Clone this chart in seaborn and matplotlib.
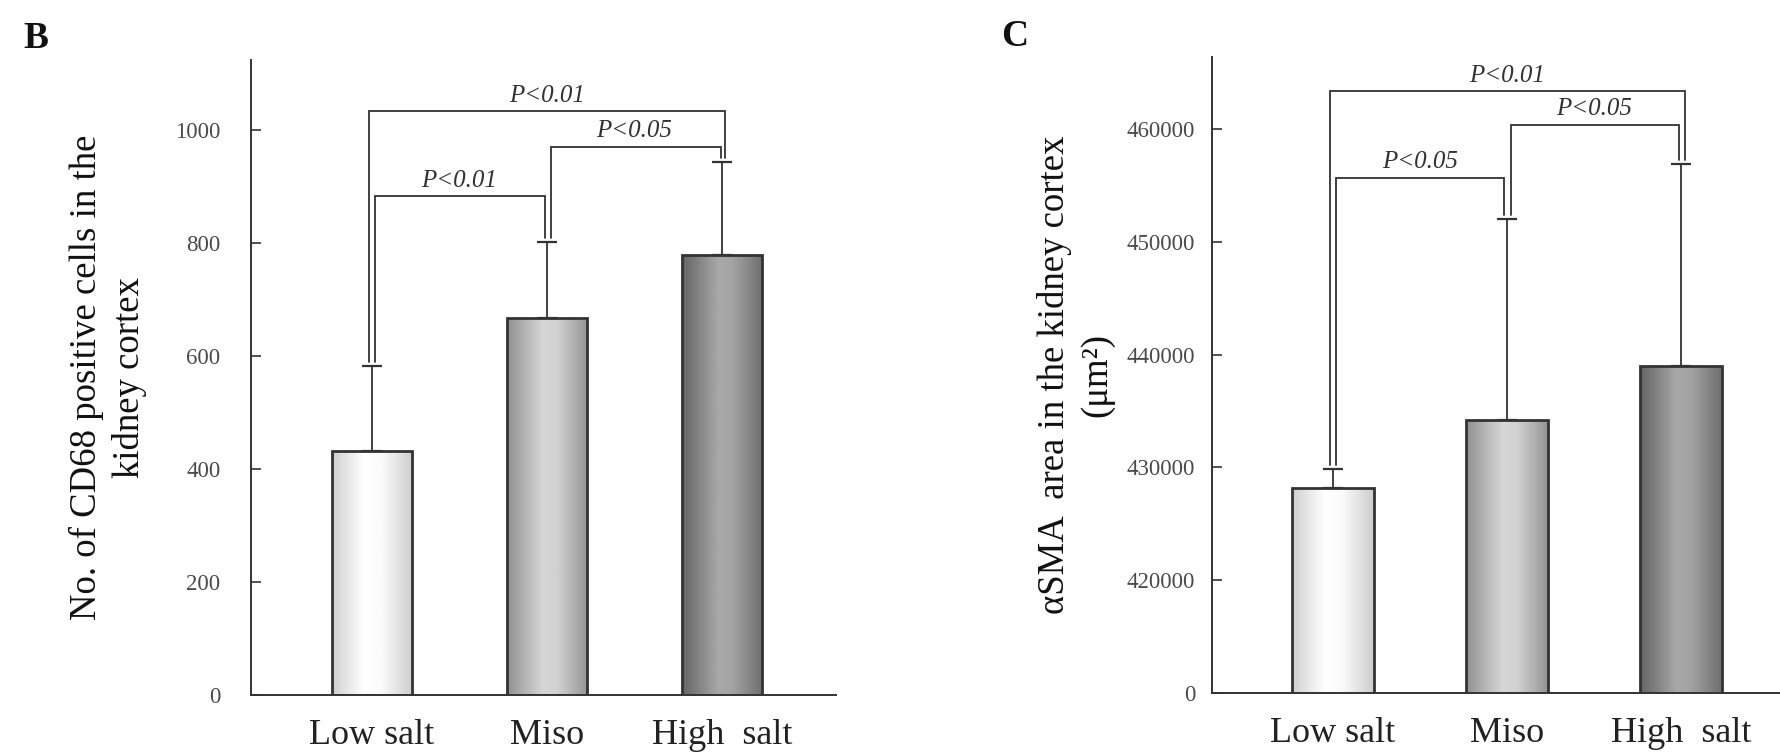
import numpy as np
import pandas as pd
import matplotlib
matplotlib.use("Agg")
import matplotlib.pyplot as plt
import seaborn as sns

# ---------------- data ----------------
categories = ["Low salt", "Miso", "High  salt"]

cd68_mean = [432, 666, 778]
cd68_err = [149, 135, 165]
cd68_ticks = [0, 200, 400, 600, 800, 1000]
cd68_ticklabels = ["0", "200", "400", "600", "800", "1000"]
# (left group, right group, bracket height, label)
cd68_brackets = [(0, 2, 1033, "P<0.01"), (1, 2, 970, "P<0.05"), (0, 1, 882, "P<0.01")]

sma_mean = [428200, 434200, 439000]
sma_err = [1700, 17800, 17900]
sma_ticks = [410000, 420000, 430000, 440000, 450000, 460000]
sma_ticklabels = ["0", "420000", "430000", "440000", "450000", "460000"]
sma_brackets = [(0, 2, 463400, "P<0.01"), (1, 2, 460400, "P<0.05"), (0, 1, 455700, "P<0.05")]

# ---------------- style ----------------
sns.set_theme(style="white")
plt.rcParams["font.family"] = ["Liberation Serif", "DejaVu Serif"]

DARK = "#333333"
# horizontal shading profiles (position, grey level) for each bar
shades = [
    [(0, 0.80), (0.1, 0.86), (0.4, 1.0), (0.62, 0.98), (0.88, 0.86), (1, 0.80)],
    [(0, 0.56), (0.15, 0.66), (0.45, 0.84), (0.62, 0.82), (0.88, 0.66), (1, 0.58)],
    [(0, 0.40), (0.15, 0.48), (0.45, 0.66), (0.62, 0.64), (0.88, 0.50), (1, 0.43)],
]

W, H = 1781, 752
fig = plt.figure(figsize=(W / 100, H / 100), dpi=100)
axB = fig.add_axes([251 / W, 1 - 695 / H, 585 / W, 635 / H])
axC = fig.add_axes([1212 / W, 1 - 693 / H, 569 / W, 636 / H])


def draw_panel(ax, means, errs, width, ylim, xlim, ticks, ticklabels, brackets,
               leg_offsets, ylabel, label_x, tick_pad):
    df = pd.DataFrame({"group": categories, "value": means})
    sns.barplot(data=df, x="group", y="value", ax=ax, width=width, color="white",
                edgecolor=DARK, linewidth=2.0, errorbar=None)
    ax.set_xlim(*xlim)
    ax.set_ylim(*ylim)
    # gradient shading inside each bar
    for patch, stops in zip(ax.patches, shades):
        x0, y0 = patch.get_x(), patch.get_y()
        w, h = patch.get_width(), patch.get_height()
        xs = np.linspace(0, 1, 256)
        g = np.interp(xs, [p for p, _ in stops], [v for _, v in stops])
        img = ax.imshow(g[np.newaxis, :], cmap="gray", vmin=0, vmax=1,
                        aspect="auto", extent=(x0, x0 + w, max(y0, ylim[0]), y0 + h),
                        interpolation="bilinear", zorder=1)
        img.set_clip_path(patch)
        patch.set_facecolor("none")
        patch.set_zorder(2)
    ax.set_xlim(*xlim)
    ax.set_ylim(*ylim)

    xs = np.arange(len(categories))
    ax.errorbar(xs, means, yerr=[np.zeros(len(errs)), errs], fmt="none",
                ecolor=DARK, elinewidth=1.3, capsize=7.5, capthick=1.6, zorder=3)
    tops = np.array(means) + np.array(errs)
    pos = ax.get_position()
    xpx = pos.width * W / (xlim[1] - xlim[0])
    ypx = pos.height * H / (ylim[1] - ylim[0])
    for (i, j, h, lab), (dl, dr) in zip(brackets, leg_offsets):
        gap = 4 / ypx
        xl = i + dl / xpx
        xr = j + dr / xpx
        ax.plot([xl, xl, xr, xr], [tops[i] + gap, h, h, tops[j] + gap],
                color=DARK, lw=1.3, zorder=3, solid_joinstyle="miter")
        ax.annotate(lab, xy=((i + j) / 2, h), xytext=(0, 3), textcoords="offset points",
                    ha="center", va="bottom", fontsize=18, style="italic", color="#333333")

    ax.set_yticks(ticks)
    ax.set_yticklabels(ticklabels)
    ax.set_xlabel("")
    ax.set_ylabel(ylabel, fontsize=26.5, color="#111111", linespacing=1.3)
    ax.yaxis.set_label_coords(label_x, 0.5)
    ax.tick_params(axis="y", direction="in", length=7, width=1.2, color=DARK,
                   labelsize=16.5, labelcolor="#4a4a4a", pad=tick_pad, left=True)
    ax.tick_params(axis="x", length=0, labelsize=26, labelcolor="#222222", pad=17)
    for s in ["top", "right"]:
        ax.spines[s].set_visible(False)
    for s in ["left", "bottom"]:
        ax.spines[s].set_color(DARK)
        ax.spines[s].set_linewidth(1.4)
        ax.spines[s].set_zorder(4)


draw_panel(axB, cd68_mean, cd68_err, 0.46, (0, 1123), (-0.69, 2.65),
           cd68_ticks, cd68_ticklabels, cd68_brackets,
           [(-3, 3), (4, -1), (3, -2)],
           "No. of CD68 positive cells in the\nkidney cortex", -0.178, 22)

draw_panel(axC, sma_mean, sma_err, 0.47, (410000, 466400), (-0.695, 2.575),
           sma_ticks, sma_ticklabels, sma_brackets,
           [(-3, 4), (4, -2), (3, -3)],
           "\u03b1SMA  area in the kidney cortex\n(\u03bcm\u00b2)", -0.172, 12)

fig.text(36 / W, 1 - 38 / H, "B", ha="center", va="center", fontsize=27,
         fontweight="bold", color="#111111")
fig.text(1015 / W, 1 - 36 / H, "C", ha="center", va="center", fontsize=27,
         fontweight="bold", color="#111111")

fig.savefig("out.png", dpi=100, facecolor="white")
